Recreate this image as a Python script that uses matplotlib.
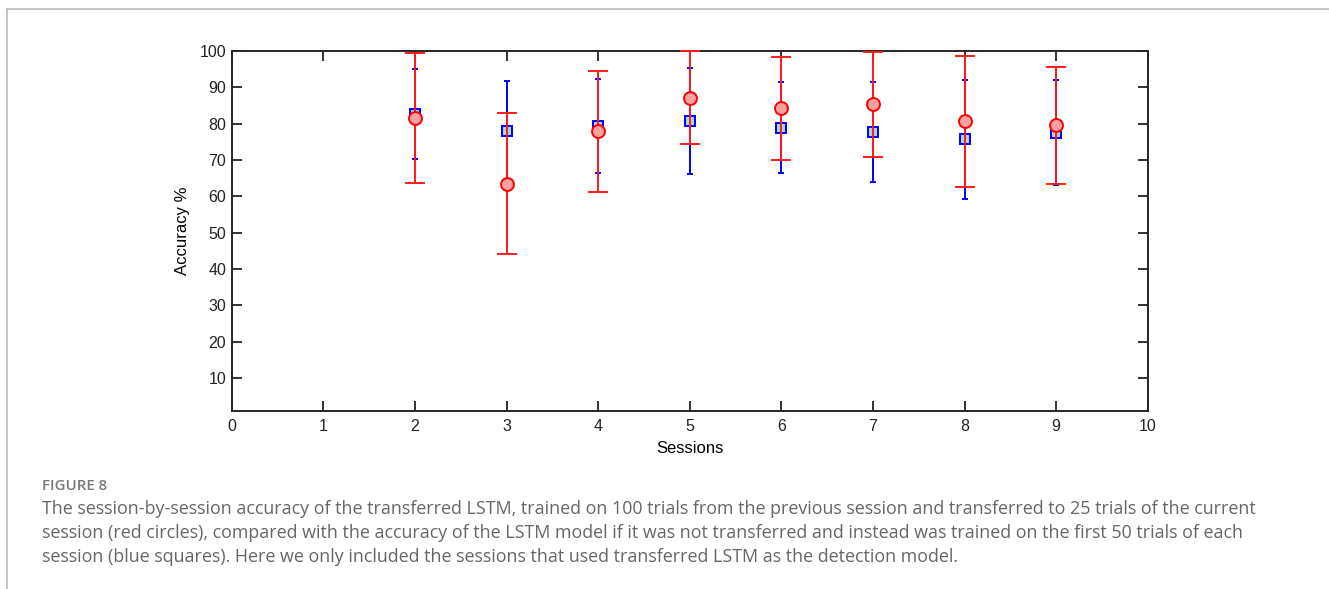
import matplotlib
matplotlib.use("Agg")
import matplotlib.pyplot as plt
from matplotlib.lines import Line2D

# session-by-session accuracy
sessions = [2, 3, 4, 5, 6, 7, 8, 9]
# LSTM trained on first 50 trials of each session (blue squares)
blue_mean = [82.6, 78.1, 79.3, 80.7, 78.9, 77.7, 75.7, 77.5]
blue_err = [12.4, 13.7, 13.0, 14.5, 12.6, 13.8, 16.3, 14.5]
# transferred LSTM (red circles)
red_mean = [81.6, 63.5, 77.9, 87.2, 84.2, 85.3, 80.6, 79.5]
red_err = [17.8, 19.4, 16.7, 12.7, 14.2, 14.5, 18.0, 16.2]

x_ticks = list(range(0, 11))
y_ticks = list(range(10, 101, 10))

caption_title = "FIGURE 8"
caption_lines = [
    "The session-by-session accuracy of the transferred LSTM, trained on 100 trials from the previous session and transferred to 25 trials of the current",
    "session (red circles), compared with the accuracy of the LSTM model if it was not transferred and instead was trained on the first 50 trials of each",
    "session (blue squares). Here we only included the sessions that used transferred LSTM as the detection model.",
]

W, H = 1329, 589
fig = plt.figure(figsize=(W / 100, H / 100), dpi=100)
ax = fig.add_axes([231.7 / W, 1 - 410.7 / H, (1147.7 - 231.7) / W, (410.7 - 51) / H])

ax.errorbar(sessions, blue_mean, yerr=blue_err, fmt="s", color="#0000ff",
            ecolor="#0000ff", elinewidth=1.4, capsize=2.2, capthick=1.4,
            markersize=7, markerfacecolor="#a9d4e0", markeredgecolor="#0000ff",
            markeredgewidth=1.4, zorder=3, clip_on=False)
ax.errorbar(sessions, red_mean, yerr=red_err, fmt="o", color="#ff0000",
            ecolor="#ff1a1a", elinewidth=1.4, capsize=7, capthick=1.4,
            markersize=9.3, markerfacecolor="#f7a1a1", markeredgecolor="#ff0000",
            markeredgewidth=1.4, zorder=4, clip_on=False)

ax.set_xlim(0, 10)
ax.set_ylim(1, 100)
ax.set_xticks(x_ticks)
ax.set_yticks(y_ticks)
ax.tick_params(direction="in", length=7, width=1.3, top=True, right=True,
               labelsize=11.5, colors="#222222")
ax.tick_params(axis="y", pad=4)
ax.tick_params(axis="x", pad=6)
for sp in ax.spines.values():
    sp.set_linewidth(1.4)
    sp.set_color("#262626")
for lab in ax.get_xticklabels() + ax.get_yticklabels():
    lab.set_fontfamily("Liberation Sans")
ax.set_xlabel("Sessions", fontsize=12, family="Liberation Sans", labelpad=5)
ax.set_ylabel("Accuracy %", fontsize=12, family="Liberation Sans", labelpad=7)

# page frame lines
fig.add_artist(Line2D([7 / W, 1], [1 - 9 / H, 1 - 9 / H], color="#bbbbbb", lw=1.2))
fig.add_artist(Line2D([7 / W, 7 / W], [0, 1 - 9 / H], color="#bbbbbb", lw=1.2))

fig.text(42 / W, 1 - 486 / H, caption_title, fontsize=10.8, color="#777777",
         family="Open Sans", weight="semibold", va="center")
for i, line in enumerate(caption_lines):
    fig.text(42 / W, 1 - (509 + 24 * i) / H, line, fontsize=12.9, color="#666666",
             family="Open Sans", va="center")

fig.savefig("out.png", dpi=100)
